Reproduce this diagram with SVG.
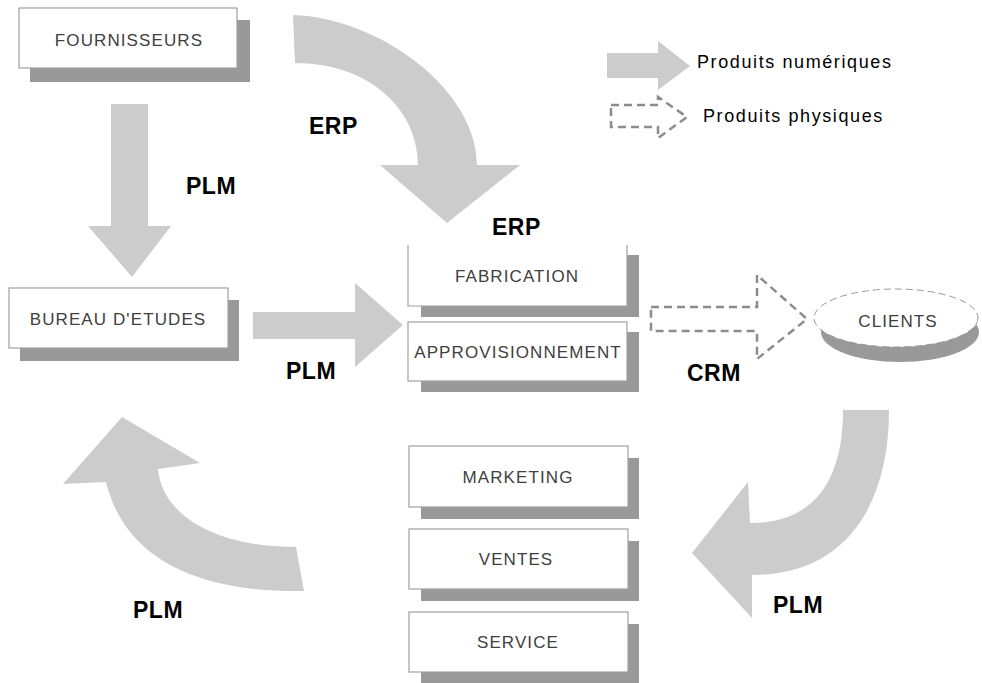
<svg xmlns="http://www.w3.org/2000/svg" width="982" height="683" viewBox="0 0 982 683">
<style>
.bg{fill:#ffffff}
.sh{fill:#999999}
.bx{fill:#ffffff;stroke:#a0a0a0;stroke-width:1.2}
.bt{font-family:"Liberation Sans",Arial,sans-serif;font-size:17px;letter-spacing:1.1px;fill:#404040;text-anchor:middle}
.lb{font-family:"Liberation Sans",Arial,sans-serif;font-size:23px;font-weight:bold;letter-spacing:0.5px;fill:#000000}
.lg{font-family:"Liberation Sans",Arial,sans-serif;font-size:18px;letter-spacing:1.6px;fill:#000000}
.ar{fill:#cccccc}
.da{fill:none;stroke:#8c8c8c;stroke-width:2.5;stroke-dasharray:8 5}
</style>
<rect class="bg" x="0" y="0" width="982" height="683"/>

<g id="connectors">
  <path class="ar" d="M111 104 L148 104 L148 226 L171 226 L132 277 L88 226 L111 226 Z"/>
  <path class="ar" d="M253 312 L355 312 L355 283 L403 325 L355 367 L355 339 L253 339 Z"/>
  <path class="ar" d="M293 15 C380 18 477 90 477 165 L520 165 L447 223 L380 165 L418 165 C418 110 370 63 295 63 Z"/>
  <path class="ar" d="M843 410 L889 410 C889 500 850 575 752 575 L752 618 L692 553 L748 482 L750 523 C815 523 843 480 843 410 Z"/>
  <path class="ar" d="M296 547 C215 547 162 515 158 469 L200 463 L122 417 L63 484 L106 482 C125 560 200 593 304 591 Z"/>
  <path class="da" d="M651 307 L757 307 L757 275 L807 319 L757 359 L757 331 L651 331 Z"/>
</g>

<g id="labels">
  <text class="lb" x="309" y="134">ERP</text>
  <text class="lb" x="492" y="235">ERP</text>
  <text class="lb" x="186" y="194">PLM</text>
  <text class="lb" x="286" y="379">PLM</text>
  <text class="lb" x="687" y="381">CRM</text>
  <text class="lb" x="133" y="618">PLM</text>
  <text class="lb" x="773" y="613">PLM</text>
</g>

<g id="fournisseurs">
  <rect class="sh" x="30" y="20" width="220" height="62"/>
  <rect class="bx" x="19" y="8" width="218" height="60"/>
  <text class="bt" x="129" y="46">FOURNISSEURS</text>
</g>

<g id="bureau">
  <rect class="sh" x="20" y="300" width="219" height="61"/>
  <rect class="bx" x="9" y="288" width="219" height="60"/>
  <text class="bt" x="118" y="325">BUREAU D'ETUDES</text>
</g>

<g id="fabrication">
  <rect class="sh" x="421" y="255" width="218" height="62"/>
  <rect x="408" y="245" width="219" height="61" fill="#ffffff"/>
  <path d="M408 245 L408 306 L627 306 L627 245" fill="none" stroke="#a0a0a0" stroke-width="1.2"/>
  <text class="bt" x="517" y="282">FABRICATION</text>
</g>

<g id="approvisionnement">
  <rect class="sh" x="421" y="332" width="218" height="60"/>
  <rect class="bx" x="408" y="322" width="219" height="59"/>
  <text class="bt" x="518" y="358">APPROVISIONNEMENT</text>
</g>

<g id="marketing">
  <rect class="sh" x="421" y="458" width="218" height="61"/>
  <rect class="bx" x="409" y="446" width="219" height="61"/>
  <text class="bt" x="518" y="483">MARKETING</text>
</g>

<g id="ventes">
  <rect class="sh" x="421" y="541" width="218" height="60"/>
  <rect class="bx" x="409" y="529" width="219" height="60"/>
  <text class="bt" x="516" y="565">VENTES</text>
</g>

<g id="service">
  <rect class="sh" x="421" y="624" width="218" height="59"/>
  <rect class="bx" x="409" y="612" width="219" height="60"/>
  <text class="bt" x="518" y="648">SERVICE</text>
</g>

<g id="clients">
  <ellipse class="sh" cx="900" cy="332" rx="79" ry="30"/>
  <ellipse cx="896" cy="318" rx="82" ry="29" fill="#ffffff" stroke="#999999" stroke-width="1" stroke-dasharray="7 4"/>
  <text class="bt" x="898" y="327">CLIENTS</text>
</g>

<g id="legend">
  <path class="ar" d="M607 53 L658 53 L658 41 L690 66 L658 90 L658 78 L607 78 Z"/>
  <text class="lg" x="697" y="68">Produits numériques</text>
  <path class="da" d="M611 105 L658 105 L658 97 L687 117 L658 138 L658 127 L611 127 Z"/>
  <text class="lg" x="703" y="122">Produits physiques</text>
</g>
</svg>
